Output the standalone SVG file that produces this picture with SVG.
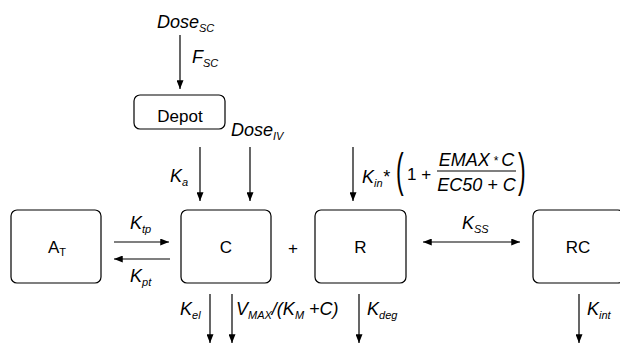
<svg xmlns="http://www.w3.org/2000/svg" width="620" height="346" viewBox="0 0 620 346">
<defs>
<marker id="ah" viewBox="0 0 10 8" markerWidth="9" markerHeight="7" refX="10" refY="4" orient="auto-start-reverse" markerUnits="userSpaceOnUse">
<path d="M0,0 L10,4 L0,8 z" fill="#000"/>
</marker>
</defs>
<style>
.box{fill:#fff;stroke:#000;stroke-width:1.2}
.lbl{font-family:"Liberation Sans",Arial,sans-serif;font-size:17px;fill:#000}
.it{font-family:"Liberation Sans",Arial,sans-serif;font-size:18px;font-style:italic;fill:#000}
.sub{font-size:11px}
.ln{stroke:#000;stroke-width:1.2;fill:none;marker-end:url(#ah)}
</style>
<rect width="620" height="346" fill="#fff"/>
<g id="depot"><rect class="box" x="134" y="95" width="91" height="34" rx="6"/><text class="lbl" x="180" y="122" text-anchor="middle">Depot</text></g>
<g id="at"><rect class="box" x="11" y="210" width="90" height="73" rx="6"/><text class="lbl" x="48" y="253">A<tspan class="sub" dy="3">T</tspan></text></g>
<g id="c"><rect class="box" x="181" y="210" width="90" height="73" rx="6"/><text class="lbl" x="226" y="253" text-anchor="middle">C</text></g>
<g id="r"><rect class="box" x="315" y="210" width="91" height="73" rx="6"/><text class="lbl" x="360.5" y="253" text-anchor="middle">R</text></g>
<g id="rc"><rect class="box" x="533" y="210" width="91" height="73" rx="6"/><text class="lbl" x="578" y="253" text-anchor="middle">RC</text></g>
<text class="lbl" x="293" y="254" text-anchor="middle">+</text>
<g id="connectors">
<line class="ln" x1="180" y1="35" x2="180" y2="89"/>
<line class="ln" x1="200" y1="147" x2="200" y2="201"/>
<line class="ln" x1="250" y1="147" x2="250" y2="201"/>
<line class="ln" x1="353" y1="147" x2="353" y2="201"/>
<line class="ln" x1="114" y1="242" x2="169" y2="242"/>
<line class="ln" x1="170" y1="259" x2="114" y2="259"/>
<line class="ln" x1="423" y1="242" x2="520" y2="242" style="marker-start:url(#ah)"/>
<line class="ln" x1="210" y1="294" x2="210" y2="343"/>
<line class="ln" x1="232" y1="294" x2="232" y2="343"/>
<line class="ln" x1="359" y1="294" x2="359" y2="343"/>
<line class="ln" x1="579" y1="294" x2="579" y2="343"/>
</g>
<g id="labels">
<text class="it" x="157" y="28">Dose<tspan class="sub" dy="4">SC</tspan></text>
<text class="it" x="192" y="63">F<tspan class="sub" dy="4">SC</tspan></text>
<text class="it" x="231" y="136">Dose<tspan class="sub" dy="4">IV</tspan></text>
<text class="it" x="170" y="182">K<tspan class="sub" dy="4">a</tspan></text>
<text class="it" x="362" y="183">K<tspan class="sub" dy="4">in</tspan><tspan dy="-4">*</tspan></text>
<text class="lbl" transform="translate(396,186) scale(1,2)" style="font-size:23px">(</text>
<text class="lbl" x="407" y="180">1 +</text>
<line x1="437" y1="171" x2="516" y2="171" stroke="#000" stroke-width="1.2"/>
<text class="it" x="476.5" y="166" text-anchor="middle">EMAX<tspan style="font-size:12px" dy="-1"> * </tspan><tspan dy="1">C</tspan></text>
<text class="it" x="476.5" y="191" text-anchor="middle">EC50 + C</text>
<text class="lbl" transform="translate(518,186) scale(1,2)" style="font-size:23px">)</text>
<text class="it" x="130" y="229">K<tspan class="sub" dy="4">tp</tspan></text>
<text class="it" x="130" y="282">K<tspan class="sub" dy="4">pt</tspan></text>
<text class="it" x="462" y="229">K<tspan class="sub" dy="4">SS</tspan></text>
<text class="it" x="180" y="315">K<tspan class="sub" dy="4">el</tspan></text>
<text class="it" x="236" y="315">V<tspan class="sub" dy="4">MAX</tspan><tspan dy="-4">/(K</tspan><tspan class="sub" dy="4">M</tspan><tspan dy="-4"> +C)</tspan></text>
<text class="it" x="367" y="315">K<tspan class="sub" dy="4">deg</tspan></text>
<text class="it" x="587" y="315">K<tspan class="sub" dy="4">int</tspan></text>
</g>
</svg>
